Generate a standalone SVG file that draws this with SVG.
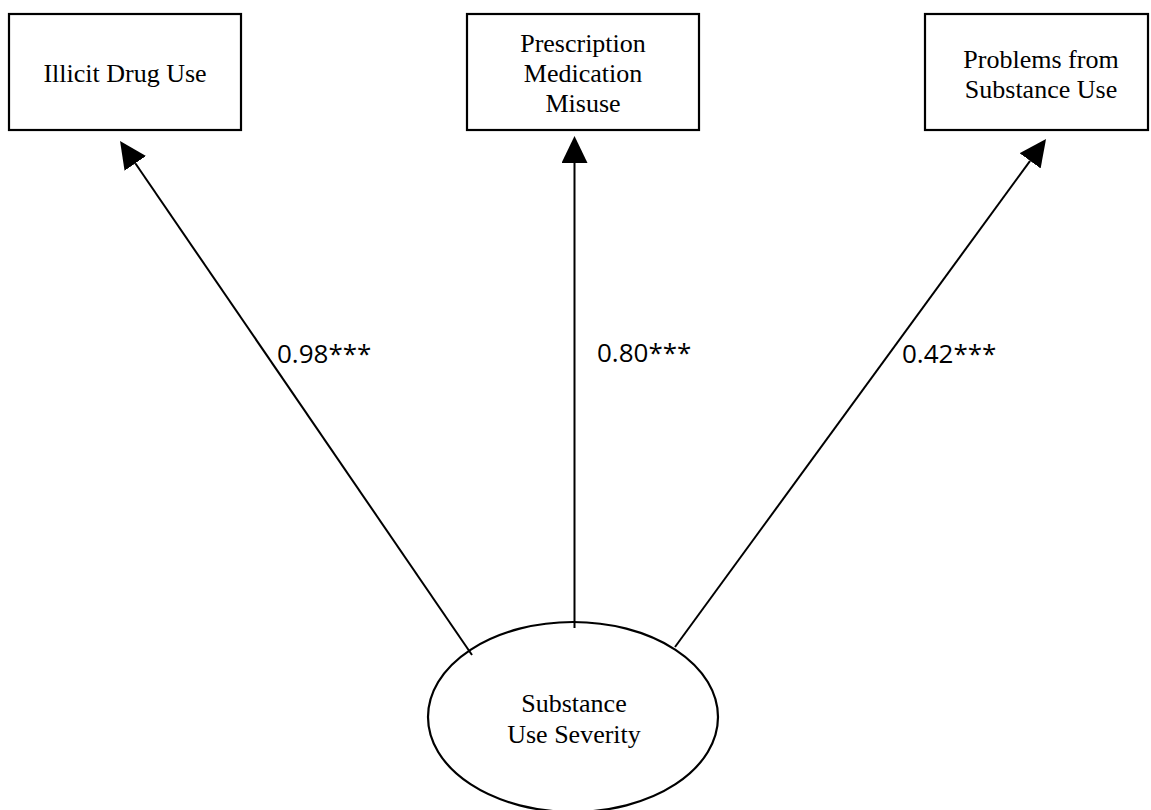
<svg xmlns="http://www.w3.org/2000/svg" width="1151" height="810" viewBox="0 0 1151 810">
<style>
.box{fill:#fff;stroke:#000;stroke-width:2.2}
.nt{font-family:"Liberation Serif","Times New Roman",serif;font-size:26px;fill:#000;text-anchor:middle}
.lbl{font-family:"Open Sans","Noto Sans",sans-serif;font-size:26px;fill:#000}
.edge{stroke:#000;stroke-width:2;fill:none;marker-end:url(#ah)}
</style>
<defs>
<marker id="ah" markerUnits="userSpaceOnUse" markerWidth="28" markerHeight="27" refX="0" refY="13" orient="auto" viewBox="0 0 28 27">
<path d="M0,0 L27,13 L0,26 z" fill="#000"/>
</marker>
</defs>
<rect width="1151" height="810" fill="#fff"/>
<g id="connectors">
<line class="edge" x1="472" y1="655" x2="135.3" y2="163.3"/>
<line class="edge" x1="574.5" y1="628" x2="574.5" y2="163"/>
<line class="edge" x1="675" y1="647" x2="1030.1" y2="160.8"/>
<text class="lbl" x="277" y="363">0.98***</text>
<text class="lbl" x="597" y="362">0.80***</text>
<text class="lbl" x="902" y="363">0.42***</text>
</g>
<g id="illicit">
<rect class="box" x="9" y="14" width="232" height="116"/>
<text class="nt" x="125" y="82">Illicit Drug Use</text>
</g>
<g id="prescription">
<rect class="box" x="467" y="14" width="232" height="116"/>
<text class="nt" x="583" y="52">Prescription</text>
<text class="nt" x="583" y="82">Medication</text>
<text class="nt" x="583" y="112">Misuse</text>
</g>
<g id="problems">
<rect class="box" x="925" y="14" width="223" height="116"/>
<text class="nt" x="1041" y="68">Problems from</text>
<text class="nt" x="1041" y="98">Substance Use</text>
</g>
<g id="severity">
<ellipse cx="573" cy="717" rx="145" ry="95" fill="none" stroke="#000" stroke-width="2.2"/>
<text class="nt" x="574" y="712">Substance</text>
<text class="nt" x="574" y="743">Use Severity</text>
</g>
</svg>
